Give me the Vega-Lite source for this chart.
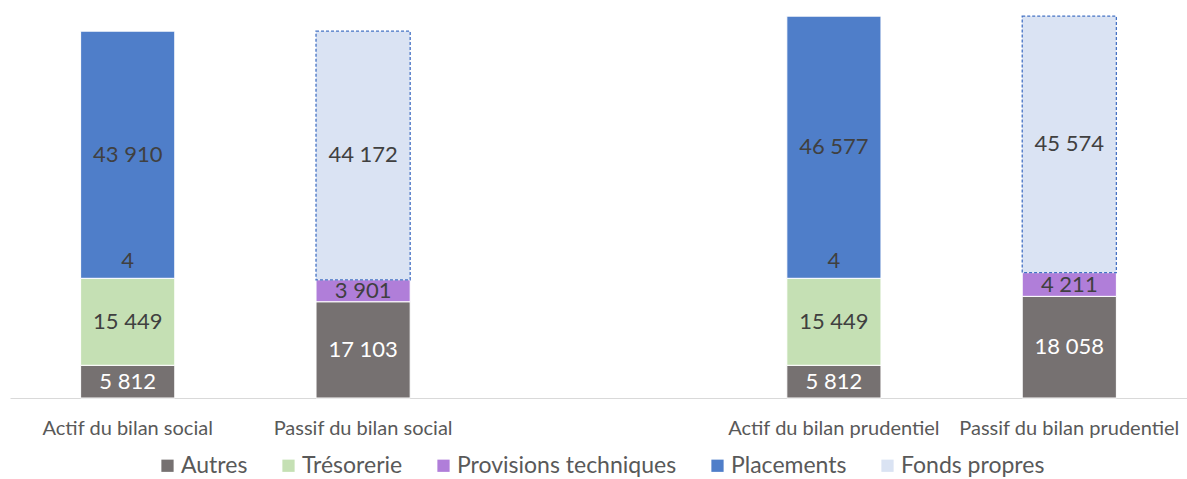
{
  "$schema": "https://vega.github.io/schema/vega-lite/v6.json",
  "width": 1177,
  "height": 394,
  "autosize": {"type": "none"},
  "padding": {"left": 10, "top": 4, "right": 0, "bottom": 81},
  "config": {"view": {"stroke": null}, "font": "Lato"},
  "data": {
    "values": [
      {"categorie": "Actif du bilan social", "serie": "Autres", "ordre": 1, "valeur": 5812},
      {"categorie": "Actif du bilan social", "serie": "Trésorerie", "ordre": 2, "valeur": 15449},
      {"categorie": "Actif du bilan social", "serie": "Provisions techniques", "ordre": 3, "valeur": 4},
      {"categorie": "Actif du bilan social", "serie": "Placements", "ordre": 4, "valeur": 43910},
      {"categorie": "Passif du bilan social", "serie": "Autres", "ordre": 1, "valeur": 17103},
      {"categorie": "Passif du bilan social", "serie": "Provisions techniques", "ordre": 3, "valeur": 3901},
      {"categorie": "Passif du bilan social", "serie": "Fonds propres", "ordre": 5, "valeur": 44172},
      {"categorie": "Actif du bilan prudentiel", "serie": "Autres", "ordre": 1, "valeur": 5812},
      {"categorie": "Actif du bilan prudentiel", "serie": "Trésorerie", "ordre": 2, "valeur": 15449},
      {"categorie": "Actif du bilan prudentiel", "serie": "Provisions techniques", "ordre": 3, "valeur": 4},
      {"categorie": "Actif du bilan prudentiel", "serie": "Placements", "ordre": 4, "valeur": 46577},
      {"categorie": "Passif du bilan prudentiel", "serie": "Autres", "ordre": 1, "valeur": 18058},
      {"categorie": "Passif du bilan prudentiel", "serie": "Provisions techniques", "ordre": 3, "valeur": 4211},
      {"categorie": "Passif du bilan prudentiel", "serie": "Fonds propres", "ordre": 5, "valeur": 45574}
    ]
  },
  "transform": [
    {"stack": "valeur", "groupby": ["categorie"], "sort": [{"field": "ordre"}], "as": ["y0", "y1"]},
    {"calculate": "(datum.y0 + datum.y1) / 2", "as": "ymid"},
    {"calculate": "replace(format(datum.valeur, ','), ',', ' ')", "as": "etiquette"}
  ],
  "encoding": {
    "x": {
      "field": "categorie",
      "type": "nominal",
      "title": null,
      "scale": {
        "domain": ["Actif du bilan social", "Passif du bilan social", "gap", "Actif du bilan prudentiel", "Passif du bilan prudentiel"],
        "paddingInner": 0.6,
        "paddingOuter": 0.3
      },
      "axis": {
        "labelAngle": 0,
        "labelExpr": "datum.value == 'gap' ? '' : datum.label",
        "labelLimit": 0,
        "ticks": false,
        "domainColor": "#D9D9D9",
        "domainWidth": 1,
        "labelFont": "Lato",
        "labelFontSize": 20,
        "labelColor": "#595959",
        "labelPadding": 20,
        "grid": false
      }
    }
  },
  "layer": [
    {
      "transform": [{"filter": "datum.serie != 'Fonds propres'"}],
      "mark": {"type": "bar", "stroke": "white", "strokeWidth": 1},
      "encoding": {
        "y": {"field": "y0", "type": "quantitative", "scale": {"domain": [0, 70000]}, "axis": null},
        "y2": {"field": "y1"},
        "color": {
          "field": "serie",
          "type": "nominal",
          "scale": {
            "domain": ["Autres", "Trésorerie", "Provisions techniques", "Placements", "Fonds propres"],
            "range": ["#767171", "#C5E0B4", "#B07ED9", "#4F7EC9", "#DAE3F3"]
          },
          "legend": {
            "title": null,
            "orient": "none",
            "direction": "horizontal",
            "legendX": 146,
            "legendY": 450,
            "symbolType": "square",
            "symbolSize": 150,
            "symbolStrokeWidth": 0,
            "labelFont": "Lato",
            "labelFontSize": 23,
            "labelLimit": 0,
            "labelColor": "#595959",
            "labelOffset": 2,
            "columnPadding": 29,
            "padding": 0,
            "encode": {
              "symbols": {
                "update": {
                  "stroke": {"signal": "datum.label == 'Fonds propres' ? '#4472C4' : null"},
                  "strokeWidth": {"signal": "datum.label == 'Fonds propres' ? 1 : 0"},
                  "strokeDash": {"signal": "datum.label == 'Fonds propres' ? [2, 1] : []"}
                }
              }
            }
          }
        },
        "order": {"field": "ordre"}
      }
    },
    {
      "transform": [{"filter": "datum.serie == 'Fonds propres'"}],
      "mark": {"type": "bar", "stroke": "#4472C4", "strokeWidth": 1.3, "strokeDash": [3, 2]},
      "encoding": {
        "y": {"field": "y0", "type": "quantitative"},
        "y2": {"field": "y1"},
        "color": {"field": "serie", "type": "nominal"}
      }
    },
    {
      "transform": [{"filter": "datum.valeur >= 100"}],
      "mark": {"type": "text", "font": "Lato", "fontSize": 22, "baseline": "middle"},
      "encoding": {
        "y": {"field": "ymid", "type": "quantitative"},
        "text": {"field": "etiquette"},
        "color": {
          "condition": {"test": "datum.serie == 'Autres'", "value": "#FFFFFF"},
          "value": "#404040"
        }
      }
    },
    {
      "transform": [{"filter": "datum.valeur < 100"}],
      "mark": {"type": "text", "font": "Lato", "fontSize": 22, "baseline": "middle", "dy": -17, "color": "#404040"},
      "encoding": {
        "y": {"field": "ymid", "type": "quantitative"},
        "text": {"field": "etiquette"}
      }
    }
  ]
}
